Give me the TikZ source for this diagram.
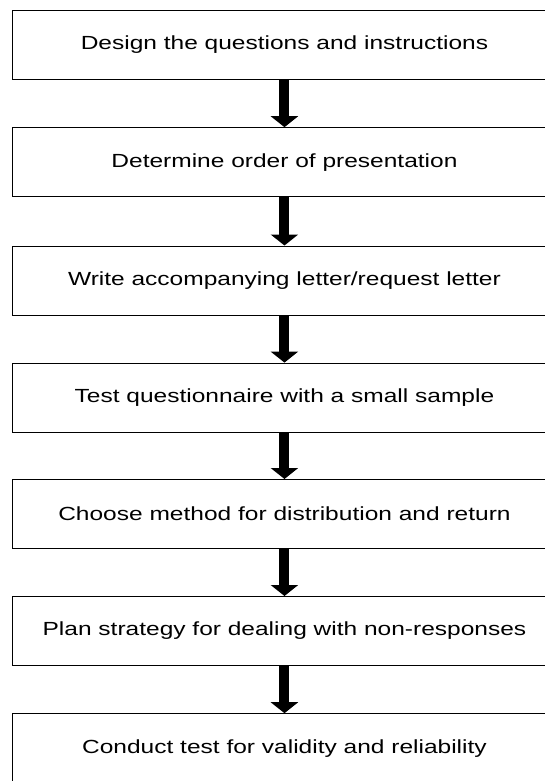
\documentclass[tikz,border=0pt]{standalone}
\usepackage{fontspec}
\newfontfamily\boxfont[FakeStretch=1.29]{Liberation Sans}
\usetikzlibrary{arrows.meta}

\tikzset{
  stepbox/.style={draw=black, line width=0.9pt, minimum width=544pt, minimum height=69pt,
    inner sep=0pt, anchor=north west, font=\boxfont\fontsize{19}{23}\selectfont},
  flowarrow/.style={line width=10pt, -{Triangle[width=27pt,length=11pt]}}
}

\begin{document}
\begin{tikzpicture}[x=1pt,y=1pt]
  \useasboundingbox (0,0) rectangle (545,-781);
  \clip (0,0) rectangle (545,-781);

  \node[stepbox] (s1) at (12,-10)    {Design the questions and instructions};
  \node[stepbox] (s2) at (12,-127.2) {Determine order of presentation};
  \node[stepbox] (s3) at (12,-245.5) {Write accompanying letter/request letter};
  \node[stepbox] (s4) at (12,-362.6) {Test questionnaire with a small sample};
  \node[stepbox] (s5) at (12,-479)   {Choose method for distribution and return};
  \node[stepbox] (s6) at (12,-596)   {Plan strategy for dealing with non-responses};
  \node[stepbox] (s7) at (12,-713.2) {Conduct test for validity and reliability};

  \foreach \a/\b in {s1/s2,s2/s3,s3/s4,s4/s5,s5/s6,s6/s7}
    \draw[flowarrow] (\a.south) -- (\b.north);
\end{tikzpicture}
\end{document}
